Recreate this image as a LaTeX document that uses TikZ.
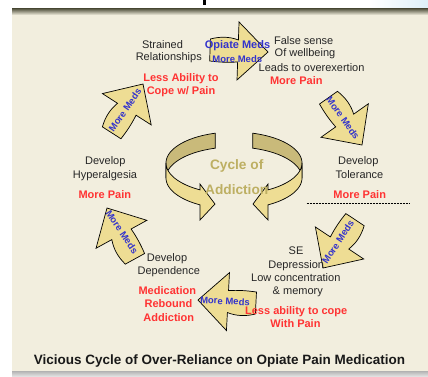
\documentclass[tikz,border=0pt]{standalone}
\usepackage{fontspec}
\setmainfont{Liberation Sans}
\definecolor{cream}{RGB}{242,238,222}
\definecolor{gold}{RGB}{238,221,148}
\definecolor{goldd}{RGB}{201,186,122}
\definecolor{txtred}{RGB}{255,51,51}
\definecolor{txtblue}{RGB}{51,51,204}
\definecolor{cyctxt}{RGB}{189,175,98}
\definecolor{shadowc}{RGB}{70,70,50}
\definecolor{skyc}{RGB}{222,240,248}
\tikzset{
  plain/.style={font=\fontsize{11}{13}\selectfont, text=black!85, anchor=base, inner sep=0pt},
  redt/.style={font=\fontsize{11}{13}\selectfont\bfseries, text=txtred, anchor=base, inner sep=0pt},
  bluet/.style={font=\fontsize{9.5}{11}\selectfont\bfseries, text=txtblue, inner sep=0pt},
  cyct/.style={font=\fontsize{13.7}{16}\selectfont\bfseries, text=cyctxt, anchor=base, inner sep=0pt},
  blockarr/.style={fill=gold, draw=black, line width=0.7pt, line join=miter},
  ribbonback/.style={fill=goldd, draw=black, line width=0.7pt},
  ribbonfront/.style={fill=gold, draw=black, line width=0.7pt, line join=miter},
}
\newcommand\medsarrow[2]{%
  \begin{scope}[shift={#1},rotate=#2]
    \path[blockarr] (-58,-11) .. controls (-48,-14) and (-39,-14) .. (-30,-11)
      -- (-30,-29) -- (0,0) -- (-30,29) -- (-30,11)
      .. controls (-39,12) and (-48,12) .. (-58,11) -- cycle;
  \end{scope}}
\begin{document}
\begin{tikzpicture}[x=1pt,y=-1pt]
\useasboundingbox (0,0) rectangle (428,376);
% background
\fill[white] (0,0) rectangle (428,376);
\shade[left color=white, right color=skyc] (370,0) rectangle (428,8);
\fill[black] (202.5,0) rectangle (205.5,5);
\fill[cream] (12,8) rectangle (428,371);
\shade[top color=shadowc, bottom color=cream] (12,8) rectangle (428,15);
\shade[top color=black!30, bottom color=black!12] (12,371) rectangle (428,376);

% central ribbons
\path[ribbonback] plot[domain=106:180,samples=40] ({234+68*cos(\x)},{163-31*sin(\x)})
  -- plot[domain=180:106,samples=40] ({234+68*cos(\x)},{178-31*sin(\x)}) -- cycle;
\path[ribbonfront] plot[domain=180:240,samples=40] ({234+68*cos(\x)},{163-31*sin(\x)})
  -- (200,184) -- (215,204) -- (200,220)
  -- plot[domain=240:180,samples=40] ({234+68*cos(\x)},{178-31*sin(\x)}) -- cycle;
\path[ribbonback] plot[domain=74:0,samples=40] ({234+68*cos(\x)},{163-31*sin(\x)})
  -- plot[domain=0:74,samples=40] ({234+68*cos(\x)},{178-31*sin(\x)}) -- cycle;
\path[ribbonfront] plot[domain=0:-60,samples=40] ({234+68*cos(\x)},{163-31*sin(\x)})
  -- (268,184) -- (253,204) -- (268,220)
  -- plot[domain=-60:0,samples=40] ({234+68*cos(\x)},{178-31*sin(\x)}) -- cycle;
\node[cyct] (cyc1) at (236.7,169) {Cycle of};
\node[cyct] (cyc2) at (236.7,194) {Addiction};

% block arrows
\medsarrow{(268,52)}{-2}
\medsarrow{(362,145)}{-54.7}
\medsarrow{(323,268)}{-123.5}
\medsarrow{(198,300)}{177}
\medsarrow{(107,208)}{118.8}
\medsarrow{(143,84)}{57.3}

% arrow labels
\node[bluet, font=\fontsize{11}{13}\selectfont\bfseries] (opm) at (237.5,45.7) {Opiate Meds};
\node[bluet] (mmA) at (237.3,59) {More Meds};
\node[bluet, rotate=-54.7] (mmB) at (343,118) {More Meds};
\node[bluet, rotate=56.5] (mmC) at (338,242) {More Meds};
\node[bluet, rotate=-3] (mmD) at (225,301) {More Meds};
\node[bluet, rotate=-56] (mmE) at (122,232) {More Meds};
\node[bluet, rotate=55] (mmF) at (125,110) {More Meds};

% top left
\node[plain] (str1) at (162.5,48.3) {Strained};
\node[plain] (str2) at (168.8,60) {Relationships};
\node[redt] (la1) at (181,81.3) {Less Ability to};
\node[redt] (la2) at (181,94) {Cope w/ Pain};
% top right
\node[plain] (fs1) at (303.7,44) {False sense};
\node[plain] (fs2) at (305,56.7) {Of wellbeing};
\node[plain] (fs3) at (311.6,71.3) {Leads to overexertion};
\node[redt] (fs4) at (296.3,84.3) {More Pain};
% right
\node[plain] (dt1) at (358.3,164.7) {Develop};
\node[plain] (dt2) at (359.5,178.3) {Tolerance};
\node[redt] (dt3) at (359.7,198.3) {More Pain};
\coordinate (dl) at (306.7,203.3);
\coordinate (dr) at (409.3,203.3);
\draw[dash pattern=on 2pt off 1pt, line width=0.6pt] (dl) -- (dr);
% left
\node[plain] (dh1) at (105.3,164) {Develop};
\node[plain] (dh2) at (105,178.3) {Hyperalgesia};
\node[redt] (dh3) at (104.8,198.3) {More Pain};
% bottom left
\node[plain] (dd1) at (167,261.7) {Develop};
\node[plain] (dd2) at (168.8,274) {Dependence};
\node[redt] (mr1) at (167.3,294) {Medication};
\node[redt] (mr2) at (168.5,307.3) {Rebound};
\node[redt] (mr3) at (168.8,321) {Addiction};
% bottom right
\node[plain] (se1) at (296,254) {SE};
\node[plain] (se2) at (296.2,268) {Depression};
\node[plain] (se3) at (295.8,281.3) {Low concentration};
\node[plain] (se4) at (297.8,294) {\& memory};
\node[redt] (lc1) at (296.2,314) {Less ability to cope};
\node[redt] (lc2) at (295.5,327.3) {With Pain};
% title
\node[font=\fontsize{13.5}{16}\selectfont\bfseries, text=black!90, anchor=base, inner sep=0pt] (title) at (219.5,364) {Vicious Cycle of Over-Reliance on Opiate Pain Medication};
\end{tikzpicture}
\end{document}
